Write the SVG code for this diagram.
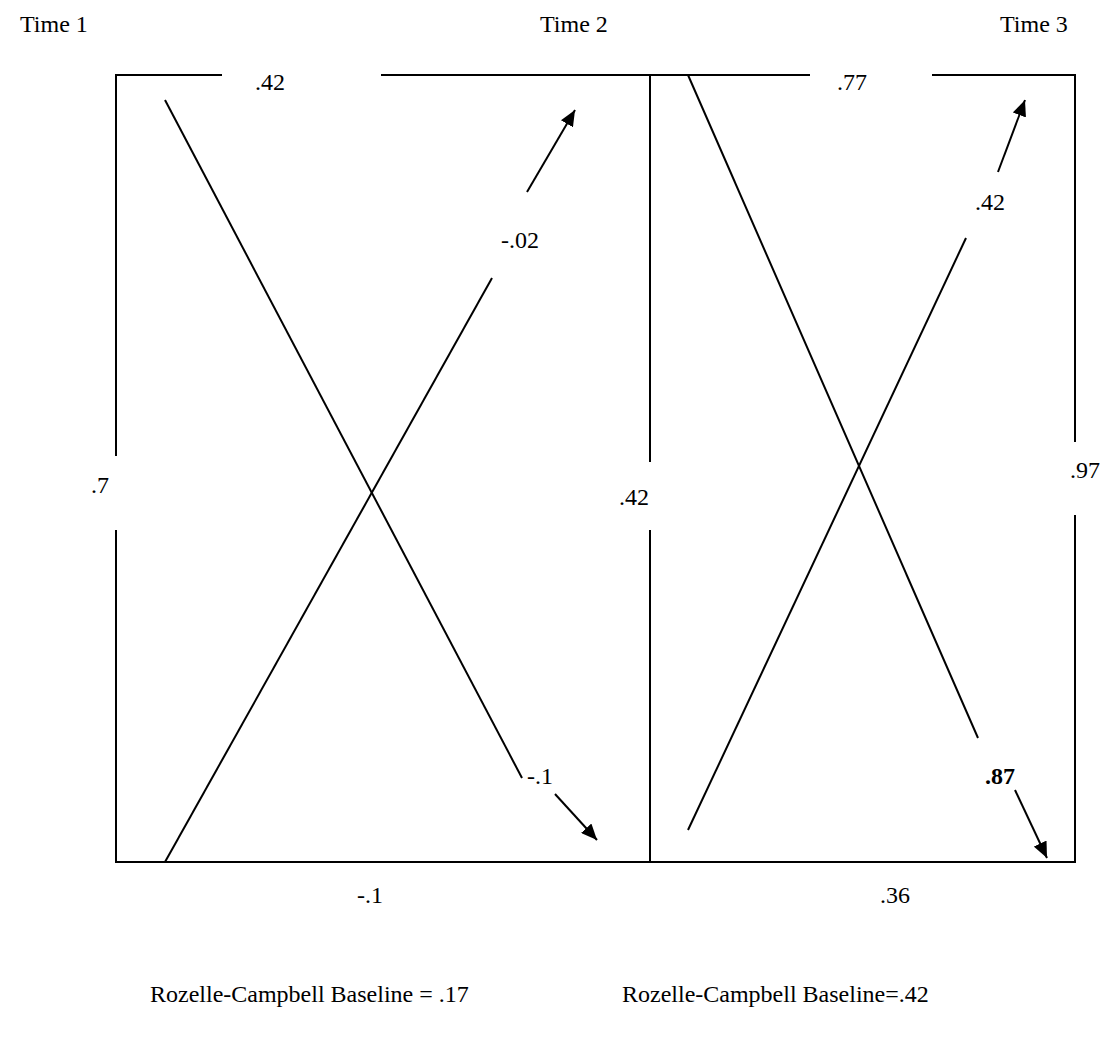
<svg xmlns="http://www.w3.org/2000/svg" width="1120" height="1058" viewBox="0 0 1120 1058">
<style>
text{font-family:"Liberation Serif","Times New Roman",serif;font-size:24px;fill:#000}
.b{font-weight:bold}
line{stroke:#000;stroke-width:2;fill:none}
</style>
<defs>
<marker id="ah" markerUnits="userSpaceOnUse" markerWidth="18" markerHeight="14" refX="16" refY="7" orient="auto">
<path d="M0,0 L16,7 L0,14 Z" fill="#000"/>
</marker>
</defs>
<rect width="1120" height="1058" fill="#fff"/>
<g id="labels-time">
<text x="20" y="32">Time 1</text>
<text x="540" y="32">Time 2</text>
<text x="1000" y="32">Time 3</text>
</g>
<g id="frame">
<line x1="116" y1="75" x2="222" y2="75"/>
<line x1="381" y1="75" x2="810" y2="75"/>
<line x1="932" y1="75" x2="1075" y2="75"/>
<line x1="116" y1="74" x2="116" y2="456"/>
<line x1="116" y1="530" x2="116" y2="863"/>
<line x1="650" y1="74" x2="650" y2="462"/>
<line x1="650" y1="530" x2="650" y2="863"/>
<line x1="1075" y1="74" x2="1075" y2="442"/>
<line x1="1075" y1="515" x2="1075" y2="863"/>
<line x1="115" y1="862" x2="1076" y2="862"/>
</g>
<g id="connectors">
<line x1="165" y1="100" x2="522" y2="778"/>
<line x1="555" y1="794" x2="597" y2="840" marker-end="url(#ah)"/>
<line x1="165" y1="862" x2="492" y2="278"/>
<line x1="527" y1="192" x2="575" y2="110" marker-end="url(#ah)"/>
<line x1="688" y1="75" x2="978" y2="738"/>
<line x1="1015" y1="790" x2="1047" y2="858" marker-end="url(#ah)"/>
<line x1="688" y1="830" x2="966" y2="238"/>
<line x1="998" y1="172" x2="1025" y2="100" marker-end="url(#ah)"/>
</g>
<g id="coef-labels" text-anchor="middle">
<text x="270" y="90">.42</text>
<text x="852" y="90">.77</text>
<text x="100" y="493">.7</text>
<text x="634" y="505">.42</text>
<text x="1085" y="478">.97</text>
<text x="520" y="248">-.02</text>
<text x="540" y="784">-.1</text>
<text x="990" y="210">.42</text>
<text class="b" x="1000" y="784">.87</text>
<text x="370" y="903">-.1</text>
<text x="895" y="903">.36</text>
</g>
<g id="baseline-notes">
<text x="150" y="1002">Rozelle-Campbell Baseline = .17</text>
<text x="622" y="1002">Rozelle-Campbell Baseline=.42</text>
</g>
</svg>
